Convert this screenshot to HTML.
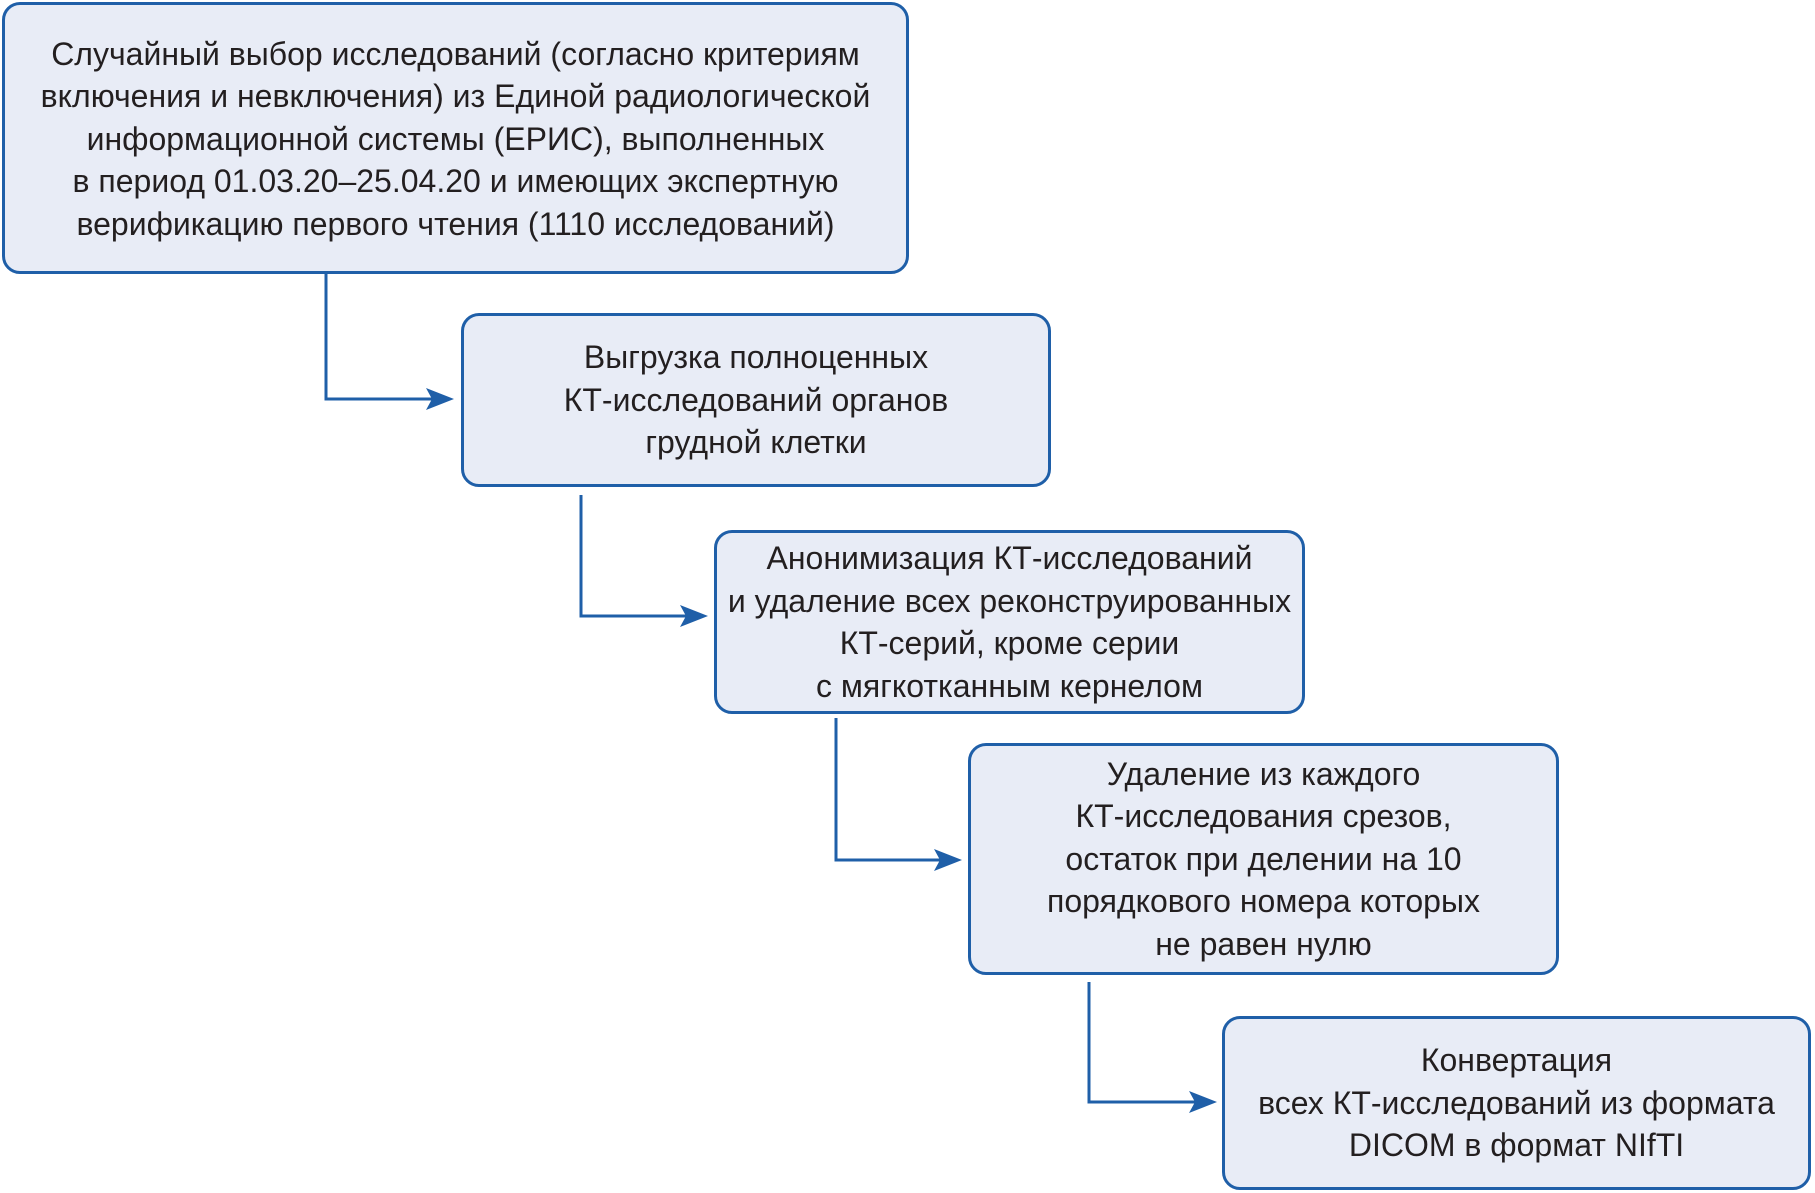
<!DOCTYPE html>
<html><head><meta charset="utf-8"><style>
body{margin:0;width:1815px;height:1193px;background:#fff;position:relative;overflow:hidden;font-family:"Liberation Sans Narrow","Liberation Sans",sans-serif;}
.b{position:absolute;box-sizing:border-box;border:3px solid #1f5fa8;border-radius:18px;background:#e8ecf6;display:flex;align-items:center;justify-content:center;text-align:center;font-size:32px;line-height:42.5px;color:#231f20;}
svg{position:absolute;left:0;top:0}
</style></head><body>
<svg width="1815" height="1193">
<g stroke="#1f5fa8" stroke-width="3" fill="none">
<path d="M326 274 V399 H440"/><path d="M581 495 V616 H695"/><path d="M836 718 V860 H949"/><path d="M1089 982 V1102 H1204"/>
</g>
<g fill="#1f5fa8">
<path d="M454 399 L426 388 L432 399 L426 410 Z"/>
<path d="M708 616 L680 605 L686 616 L680 627 Z"/>
<path d="M962 860 L934 849 L940 860 L934 871 Z"/>
<path d="M1217 1102 L1189 1091 L1195 1102 L1189 1113 Z"/>
</g>
</svg>
<div class="b" style="left:2px;top:2px;width:907px;height:272px;padding-top:2px">Случайный выбор исследований (согласно критериям<br>включения и невключения) из Единой радиологической<br>информационной системы (ЕРИС), выполненных<br>в период 01.03.20–25.04.20 и имеющих экспертную<br>верификацию первого чтения (1110 исследований)</div>
<div class="b" style="left:461px;top:313px;width:590px;height:174px">Выгрузка полноценных<br>КТ-исследований органов<br>грудной клетки</div>
<div class="b" style="left:714px;top:530px;width:591px;height:184px">Анонимизация КТ-исследований<br>и удаление всех реконструированных<br>КТ-серий, кроме серии<br>с мягкотканным кернелом</div>
<div class="b" style="left:968px;top:743px;width:591px;height:232px">Удаление из каждого<br>КТ-исследования срезов,<br>остаток при делении на 10<br>порядкового номера которых<br>не равен нулю</div>
<div class="b" style="left:1222px;top:1016px;width:589px;height:174px">Конвертация<br>всех КТ-исследований из формата<br>DICOM в формат NIfTI</div>
</body></html>
